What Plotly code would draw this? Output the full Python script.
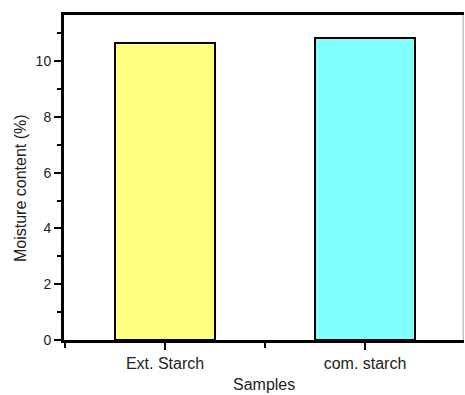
import plotly.graph_objects as go

categories = ["Ext. Starch", "com. starch"]
moisture = [10.64, 10.83]
bar_colors = ["#FFFF80", "#80FFFF"]
y_ticks = [0, 2, 4, 6, 8, 10]

x_pos = list(range(len(categories)))

fig = go.Figure()
fig.add_trace(go.Bar(
    x=x_pos, y=moisture, width=0.5,
    marker=dict(color=bar_colors, line=dict(color="black", width=2)),
))

font_family = "Liberation Sans, Arial, sans-serif"
txt = "#222"

fig.update_layout(
    width=465, height=395,
    margin=dict(l=64, r=1, t=15, b=55, autoexpand=False),
    paper_bgcolor="white", plot_bgcolor="white",
    showlegend=False,
    font=dict(family=font_family, color=txt),
    bargap=0,
)
fig.update_xaxes(
    range=[-0.505, 1.495], automargin=False,
    tickvals=x_pos, ticktext=categories,
    tickfont=dict(size=16, family=font_family, color=txt),
    showline=True, linecolor="black", linewidth=3, mirror=True,
    ticks="outside", ticklen=7, tickwidth=2, tickcolor="black",
    minor=dict(dtick=0.5, tick0=-0.5, ticks="outside", ticklen=5, tickwidth=2, tickcolor="black"),
    showgrid=False, zeroline=False,
)
fig.update_yaxes(
    range=[0, 11.65], automargin=False,
    tickvals=y_ticks,
    tickfont=dict(size=14, family=font_family, color=txt),
    showline=True, linecolor="black", linewidth=3,
    ticks="outside", ticklen=7, tickwidth=2, tickcolor="black",
    minor=dict(dtick=1, ticks="outside", ticklen=4, tickwidth=2, tickcolor="black"),
    showgrid=False, zeroline=False,
)
fig.add_annotation(text="Samples", xref="paper", yref="paper",
                   x=0.5, y=-(384 - 340) / 325, xanchor="center", yanchor="middle",
                   showarrow=False, font=dict(size=16, family=font_family, color=txt))
fig.add_annotation(text="Moisture content (%)", xref="paper", yref="paper",
                   x=-(64 - 20) / 400, y=0.5 - (188 - 177.5) / 325, xanchor="center", yanchor="middle",
                   textangle=-90, showarrow=False,
                   font=dict(size=16, family=font_family, color=txt))
fig.add_shape(type="line", xref="paper", yref="paper", x0=0.998, x1=0.998, y0=0, y1=1,
              line=dict(color="#aaa", width=1))

fig.write_html("out.html", config={"displayModeBar": False},
               post_script="document.body.style.margin='0px';document.body.style.overflow='hidden';")
